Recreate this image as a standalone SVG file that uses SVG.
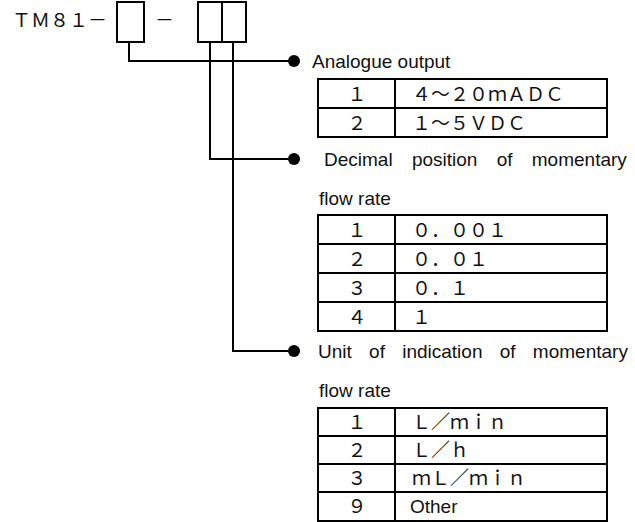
<svg xmlns="http://www.w3.org/2000/svg" width="635" height="522" viewBox="0 0 635 522">
<style>
.ln{fill:none;stroke:#000;stroke-width:2}
.dot{fill:#000}
.lbl{font-family:"Liberation Sans",Arial,sans-serif;font-size:19px;fill:#111}
.fw{font-family:"Noto Sans CJK JP","Noto Sans CJK SC",sans-serif;font-size:19px;fill:#111}
.num{text-anchor:middle}
.tb{fill:none;stroke:#000;stroke-width:2}
</style>
<rect width="635" height="522" fill="#fff"/>
<g id="code">
<text class="fw" x="12" y="27">ＴＭ８１－</text>
<rect class="tb" x="117" y="2" width="27" height="40"/>
<text class="fw" x="155" y="27">－</text>
<rect class="tb" x="198" y="2" width="48" height="40"/>
<line class="tb" x1="222" y1="2" x2="222" y2="42"/>
</g>
<g id="connectors">
<path class="ln" d="M129,42 V61 H294"/>
<path class="ln" d="M210,42 V159 H294"/>
<path class="ln" d="M233,42 V351 H294"/>
</g>
<g id="analogue">
<circle class="dot" cx="294" cy="61" r="6"/>
<text class="lbl" x="312" y="68">Analogue output</text>
<rect class="tb" x="318" y="79" width="289" height="58"/>
<line class="tb" x1="318" y1="108" x2="607" y2="108"/>
<line class="tb" x1="395" y1="79" x2="395" y2="137"/>
<text class="fw num" x="357" y="101">１</text>
<text class="fw" x="412" y="101">４～２０ｍＡＤＣ</text>
<text class="fw num" x="357" y="130">２</text>
<text class="fw" x="412" y="130">１～５ＶＤＣ</text>
</g>
<g id="decimal">
<circle class="dot" cx="294" cy="159" r="6"/>
<text class="lbl" x="324" y="166" word-spacing="14">Decimal position of momentary</text>
<text class="lbl" x="319" y="205">flow rate</text>
<rect class="tb" x="318" y="215" width="289" height="116"/>
<line class="tb" x1="318" y1="244" x2="607" y2="244"/>
<line class="tb" x1="318" y1="273" x2="607" y2="273"/>
<line class="tb" x1="318" y1="302" x2="607" y2="302"/>
<line class="tb" x1="395" y1="215" x2="395" y2="331"/>
<text class="fw num" x="357" y="237">１</text>
<text class="fw" x="412" y="237">０．００１</text>
<text class="fw num" x="357" y="266">２</text>
<text class="fw" x="412" y="266">０．０１</text>
<text class="fw num" x="357" y="295">３</text>
<text class="fw" x="412" y="295">０．１</text>
<text class="fw num" x="357" y="324">４</text>
<text class="fw" x="412" y="324">１</text>
</g>
<g id="unit">
<circle class="dot" cx="294" cy="351" r="6"/>
<text class="lbl" x="318" y="358" word-spacing="12">Unit of indication of momentary</text>
<text class="lbl" x="319" y="397">flow rate</text>
<rect class="tb" x="318" y="408" width="289" height="113"/>
<line class="tb" x1="318" y1="436" x2="607" y2="436"/>
<line class="tb" x1="318" y1="464" x2="607" y2="464"/>
<line class="tb" x1="318" y1="492" x2="607" y2="492"/>
<line class="tb" x1="395" y1="408" x2="395" y2="521"/>
<text class="fw num" x="357" y="429">１</text>
<text class="fw" x="412" y="429">Ｌ／ｍｉｎ</text>
<text class="fw num" x="357" y="457">２</text>
<text class="fw" x="412" y="457">Ｌ／ｈ</text>
<text class="fw num" x="357" y="485">３</text>
<text class="fw" x="412" y="485">ｍＬ／ｍｉｎ</text>
<text class="fw num" x="357" y="513">９</text>
<text class="lbl" x="410" y="513">Other</text>
</g>
</svg>
